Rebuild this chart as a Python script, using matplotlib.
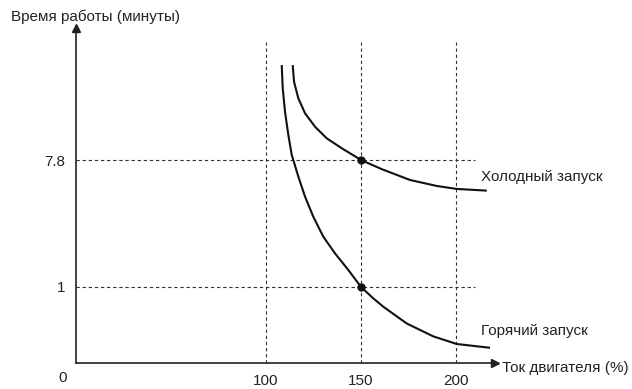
import matplotlib
matplotlib.use("Agg")
import matplotlib.pyplot as plt
import numpy as np

plt.rcParams['font.family'] = ['Liberation Sans', 'DejaVu Sans']

# Schematic data (motor current %, run time in minutes)
cold_x = [114.05, 114.74, 117.0, 120.53, 125.79, 131.95, 139.84, 150.0, 160.9, 175.79, 189.84, 200.37, 216.16]
cold_y = [12.88, 11.99, 11.10, 10.30, 9.58, 8.96, 8.43, 7.80, 7.31, 6.73, 6.41, 6.25, 6.16]
hot_x = [108.26, 108.79, 110.0, 111.74, 113.53, 114.37, 117.0, 120.53, 124.89, 130.16, 136.32, 143.32, 150.0,
         156.47, 161.74, 174.05, 188.05, 200.37, 217.89]
hot_y = [12.88, 11.64, 10.38, 9.14, 8.07, 7.80, 6.91, 5.84, 4.76, 3.69, 2.80, 1.91, 1.00,
         0.85, 0.74, 0.52, 0.35, 0.25, 0.20]

x_ticks = [100, 150, 200]
y_marks = [1, 7.8]
op_x = [150, 150]
op_y = [7.8, 1]

# nonlinear (schematic) time axis: minutes -> vertical position
y_nodes = [0, 1, 7.8, 20]
pos_nodes = [0, 76, 203, 431]


def fwd(v):
    return np.interp(v, y_nodes, pos_nodes)


def inv(p):
    return np.interp(p, pos_nodes, y_nodes)


fig = plt.figure(figsize=(6.32, 3.89), dpi=100)
ax = fig.add_axes([76 / 632, 26 / 389, 419 / 632, 335 / 389])
ax.set_yscale('function', functions=(fwd, inv))
ax.set_xlim(0, 220.5)
ax.set_ylim(0, inv(335))

grid_kw = dict(color='#333333', lw=0.8, ls=(0, (3, 2.5)))
for xv in x_ticks:
    ax.plot([xv, xv], [0, inv(321)], **grid_kw)
for yv in y_marks:
    ax.plot([0, 210], [yv, yv], **grid_kw)

ax.plot(cold_x, cold_y, color='#111111', lw=1.5, solid_capstyle='butt', solid_joinstyle='round')
ax.plot(hot_x, hot_y, color='#111111', lw=1.5, solid_capstyle='butt', solid_joinstyle='round')
ax.plot(op_x, op_y, 'o', color='#111111', ms=5, zorder=5)

for s in ['top', 'right']:
    ax.spines[s].set_visible(False)
for s in ['left', 'bottom']:
    ax.spines[s].set_color('#222222')
    ax.spines[s].set_linewidth(1.2)
ax.plot(1, 0, '>', color='#222222', ms=6, transform=ax.get_yaxis_transform(), clip_on=False)
ax.plot(0, 1, '^', color='#222222', ms=6, transform=ax.get_xaxis_transform(), clip_on=False)

ax.set_xticks(x_ticks)
ax.set_xticklabels([str(v) for v in x_ticks])
ax.set_yticks(y_marks)
ax.set_yticklabels(['1', '7.8'])
ax.tick_params(length=0, labelsize=11, colors='#222222')
ax.tick_params(axis='x', pad=8)
ax.tick_params(axis='y', pad=8)

fs = 11
fig.text(63 / 632, 1 - 378 / 389, '0', fontsize=fs, color='#222222', ha='center', va='center')
fig.text(11 / 632, 1 - 17 / 389, 'Время работы (минуты)', fontsize=fs, color='#222222', ha='left', va='center')
fig.text(502 / 632, 1 - 368 / 389, 'Ток двигателя (%)', fontsize=fs, color='#222222', ha='left', va='center')
fig.text(481 / 632, 1 - 177 / 389, 'Холодный запуск', fontsize=fs, color='#222222', ha='left', va='center')
fig.text(481 / 632, 1 - 331 / 389, 'Горячий запуск', fontsize=fs, color='#222222', ha='left', va='center')

fig.savefig('out.png', dpi=100)
